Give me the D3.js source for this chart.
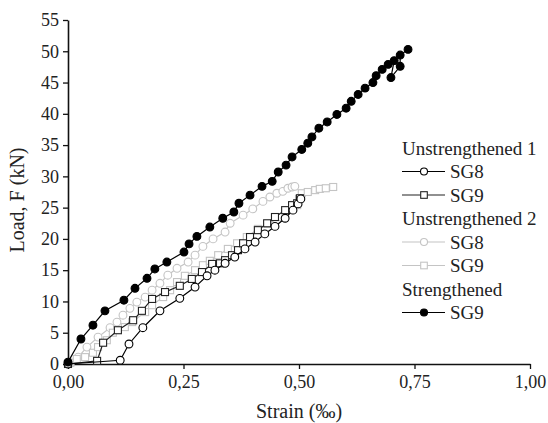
<!DOCTYPE html>
<html>
<head>
<meta charset="utf-8">
<script src="https://cdn.jsdelivr.net/npm/d3@7"></script>
<style>
  body { margin: 0; background: #fff; }
  text { font-family: "Liberation Serif", "Times New Roman", serif; fill: #222; }
</style>
</head>
<body>
<svg id="chart" width="548" height="423"></svg>
<script>
// strain (per mille) and load (kN)
const u1sg8Strain = [0, 0.113, 0.132, 0.162, 0.199, 0.242, 0.275, 0.301, 0.318, 0.340, 0.361, 0.383, 0.405, 0.426, 0.448, 0.470, 0.487, 0.498, 0.504];
const u1sg8Load   = [0, 0.6, 3.2, 5.8, 8.5, 10.5, 12.3, 14.1, 15.0, 16.1, 17.1, 18.4, 19.5, 20.8, 22.0, 23.3, 24.6, 25.6, 26.4];

const u1sg9Strain = [0, 0.063, 0.076, 0.108, 0.141, 0.160, 0.182, 0.210, 0.242, 0.268, 0.290, 0.312, 0.329, 0.340, 0.355, 0.368, 0.379, 0.394, 0.411, 0.431, 0.448, 0.470, 0.485, 0.496, 0.502];
const u1sg9Load   = [0, 0.5, 3.4, 5.4, 7.0, 8.5, 10.4, 11.5, 12.5, 13.6, 14.7, 16.0, 16.1, 16.6, 17.4, 18.2, 19.3, 20.3, 21.4, 22.5, 23.5, 24.6, 25.4, 25.7, 26.5];

const u2sg8Strain = [0.005, 0.022, 0.041, 0.065, 0.091, 0.106, 0.119, 0.134, 0.149, 0.167, 0.182, 0.199, 0.216, 0.236, 0.260, 0.275, 0.292, 0.314, 0.340, 0.351, 0.379, 0.400, 0.422, 0.437, 0.452, 0.465, 0.476, 0.485, 0.491];
const u2sg8Load   = [0.2, 1.1, 2.7, 4.3, 5.8, 6.7, 7.8, 8.9, 9.9, 10.7, 11.8, 12.9, 14.2, 15.3, 16.3, 17.4, 18.8, 20.0, 21.1, 22.5, 23.8, 24.8, 26.0, 26.7, 27.3, 27.6, 28.1, 28.3, 28.4];

const u2sg9Strain = [0.005, 0.019, 0.037, 0.054, 0.065, 0.084, 0.097, 0.123, 0.139, 0.167, 0.182, 0.206, 0.221, 0.236, 0.253, 0.275, 0.292, 0.307, 0.325, 0.346, 0.366, 0.387, 0.411, 0.433, 0.459, 0.476, 0.496, 0.500, 0.506, 0.519, 0.535, 0.545, 0.558, 0.574];
const u2sg9Load   = [0.2, 0.8, 1.1, 1.8, 2.7, 3.8, 5.0, 5.9, 6.7, 8.3, 9.4, 10.7, 11.8, 13.1, 14.1, 15.0, 15.8, 16.5, 17.4, 18.4, 19.3, 20.3, 21.6, 22.4, 23.5, 24.6, 25.4, 26.4, 27.3, 27.5, 27.8, 28.0, 28.1, 28.3];

const strSg9Strain = [0, 0.028, 0.054, 0.080, 0.121, 0.145, 0.171, 0.188, 0.214, 0.251, 0.262, 0.279, 0.307, 0.335, 0.359, 0.370, 0.394, 0.420, 0.442, 0.455, 0.472, 0.485, 0.506, 0.519, 0.528, 0.543, 0.561, 0.582, 0.602, 0.613, 0.628, 0.643, 0.660, 0.667, 0.680, 0.693, 0.706, 0.699, 0.719, 0.719, 0.736];
const strSg9Load   = [0.3, 4.0, 6.2, 8.5, 10.2, 12.1, 13.7, 15.2, 16.3, 17.9, 19.2, 20.4, 21.9, 23.3, 24.3, 25.7, 27.0, 28.4, 29.2, 30.7, 31.8, 33.1, 34.3, 35.3, 36.3, 37.7, 38.7, 39.9, 40.9, 42.0, 43.1, 44.1, 45.0, 46.1, 47.1, 47.9, 48.5, 45.8, 47.6, 49.4, 50.3];

const xTicks = [0, 0.25, 0.5, 0.75, 1.0];
const yTicks = [0, 5, 10, 15, 20, 25, 30, 35, 40, 45, 50, 55];

const series = [
  { group: "Unstrengthened 1", name: "SG8", xs: u1sg8Strain, ys: u1sg8Load, line: "#000", mark: "circle", stroke: "#000", fill: "#fff" },
  { group: null, name: "SG9", xs: u1sg9Strain, ys: u1sg9Load, line: "#222", mark: "square", stroke: "#222", fill: "#fff" },
  { group: "Unstrengthened 2", name: "SG8", xs: u2sg8Strain, ys: u2sg8Load, line: "#c4c4c4", mark: "circle", stroke: "#c4c4c4", fill: "#fff" },
  { group: null, name: "SG9", xs: u2sg9Strain, ys: u2sg9Load, line: "#c4c4c4", mark: "square", stroke: "#c4c4c4", fill: "#fff" },
  { group: "Strengthened", name: "SG9", xs: strSg9Strain, ys: strSg9Load, line: "#000", mark: "dot", stroke: "#000", fill: "#000" }
];

const svg = d3.select("#chart");
const x = d3.scaleLinear().domain([0, 1]).range([68, 530]);
const y = d3.scaleLinear().domain([0, 55]).range([364, 20]);
const fmt = d3.format(".2f");

const xAxis = svg.append("g")
  .attr("transform", "translate(0,364)")
  .call(d3.axisBottom(x).tickValues(xTicks).tickSize(5).tickSizeOuter(0)
    .tickFormat(d => fmt(d).replace(".", ",")));
const yAxis = svg.append("g")
  .attr("transform", "translate(68,0)")
  .call(d3.axisLeft(y).tickValues(yTicks).tickSize(5).tickSizeOuter(0));

[xAxis, yAxis].forEach(a => {
  a.select(".domain").attr("stroke", "#111").attr("stroke-width", 1.6);
  a.selectAll(".tick line").attr("stroke", "#111").attr("stroke-width", 1.3);
  a.selectAll(".tick text").attr("font-size", 18).attr("font-family", "Liberation Serif").attr("fill", "#222");
});
xAxis.selectAll(".tick text").attr("y", 8).attr("dy", "0.9em");
yAxis.selectAll(".tick text").attr("x", -9);

svg.append("text")
  .attr("x", 299).attr("y", 418)
  .attr("text-anchor", "middle").attr("font-size", 20)
  .text("Strain (‰)");
svg.append("text")
  .attr("transform", "translate(24,200) rotate(-90)")
  .attr("text-anchor", "middle").attr("font-size", 20)
  .text("Load, F (kN)");

function drawMark(g, type, cx, cy, s, size) {
  if (type === "square") {
    g.append("rect").attr("x", cx - size).attr("y", cy - size)
      .attr("width", size * 2).attr("height", size * 2)
      .attr("fill", s.fill).attr("stroke", s.stroke).attr("stroke-width", 1.1);
  } else {
    g.append("circle").attr("cx", cx).attr("cy", cy).attr("r", size + 0.3)
      .attr("fill", s.fill).attr("stroke", s.stroke).attr("stroke-width", 1.1);
  }
}

const line = d3.line().x(d => x(d[0])).y(d => y(d[1]));

// draw grey series first so black ones sit on top
const order = [2, 3, 1, 0, 4];
order.forEach(i => {
  const s = series[i];
  const pts = s.xs.map((v, j) => [v, s.ys[j]]);
  const g = svg.append("g");
  g.append("path").attr("d", line(pts)).attr("fill", "none")
    .attr("stroke", s.line).attr("stroke-width", 1.2);
  pts.forEach(p => drawMark(g, s.mark, x(p[0]), y(p[1]), s, s.mark === "square" ? 3.5 : 3.6));
});

// legend
const legend = svg.append("g");
let ly = 148;
series.forEach(s => {
  if (s.group) {
    legend.append("text").attr("x", 402).attr("y", ly).attr("dy", "0.35em")
      .attr("font-size", 19).text(s.group);
    ly += 23.5;
  }
  legend.append("line").attr("x1", 402).attr("x2", 445).attr("y1", ly).attr("y2", ly)
    .attr("stroke", s.line).attr("stroke-width", 1.2);
  drawMark(legend, s.mark, 424, ly, s, s.mark === "square" ? 3.3 : 3.2);
  legend.append("text").attr("x", 450).attr("y", ly).attr("dy", "0.35em")
    .attr("font-size", 19).text(s.name);
  ly += 23.5;
});
</script>
</body>
</html>
